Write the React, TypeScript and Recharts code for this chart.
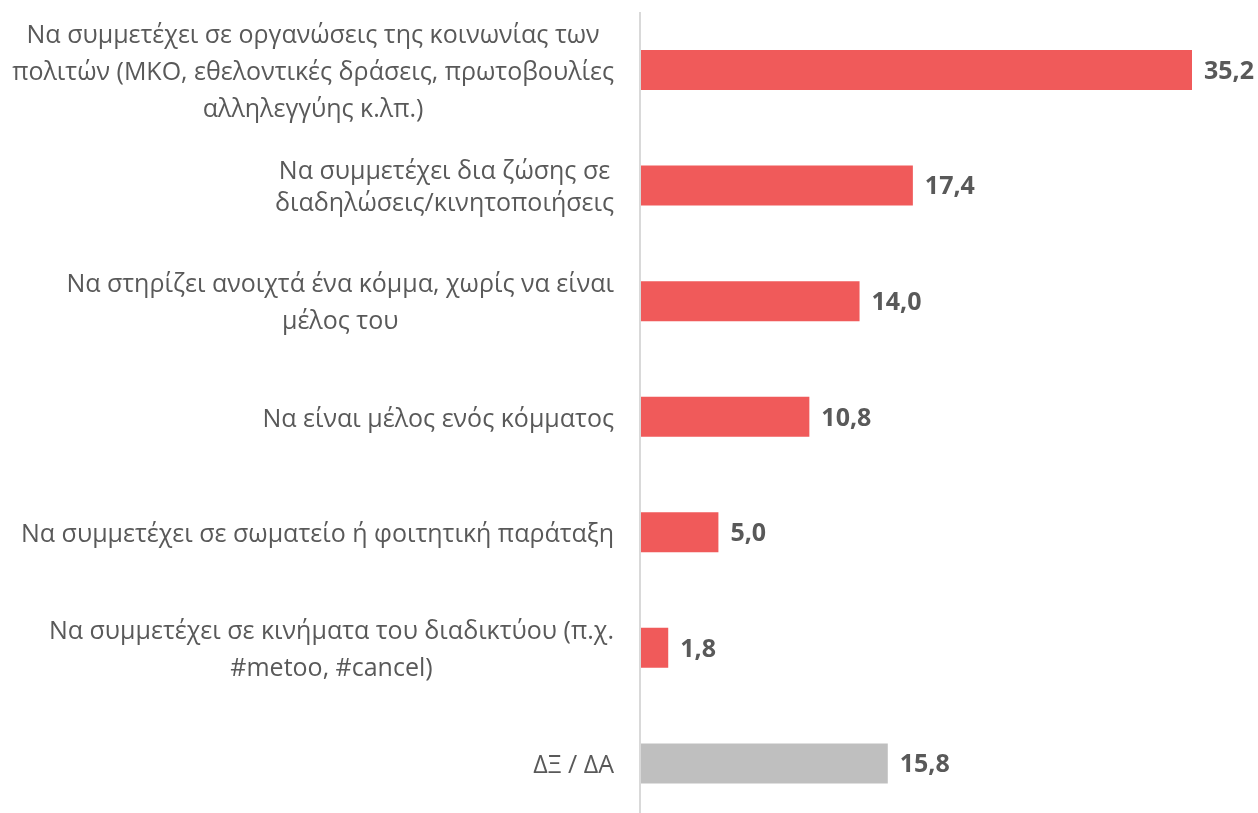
import { BarChart, Bar, XAxis, YAxis, Cell, LabelList } from 'recharts';

const categories = [
  'Να συμμετέχει σε οργανώσεις της κοινωνίας των\nπολιτών (ΜΚΟ, εθελοντικές δράσεις, πρωτοβουλίες\nαλληλεγγύης κ.λπ.)',
  'Να συμμετέχει δια ζώσης σε\nδιαδηλώσεις/κινητοποιήσεις',
  'Να στηρίζει ανοιχτά ένα κόμμα, χωρίς να είναι\nμέλος του',
  'Να είναι μέλος ενός κόμματος',
  'Να συμμετέχει σε σωματείο ή φοιτητική παράταξη',
  'Να συμμετέχει σε κινήματα του διαδικτύου (π.χ.\n#metoo, #cancel)',
  'ΔΞ / ΔΑ',
];
const values = [35.2, 17.4, 14.0, 10.8, 5.0, 1.8, 15.8];
const barColors = ['#F05A5A', '#F05A5A', '#F05A5A', '#F05A5A', '#F05A5A', '#F05A5A', '#BFBFBF'];

const data = categories.map((name, i) => ({ name, value: values[i] }));

const LABEL_SIZE = 25;
const LABEL_FONT = `${LABEL_SIZE}px 'Open Sans'`;
let ctx: CanvasRenderingContext2D | null = null;
function measure(text: string) {
  if (!ctx) ctx = document.createElement('canvas').getContext('2d');
  if (!ctx) return text.length * 12;
  ctx.font = LABEL_FONT;
  return ctx.measureText(text).width;
}

// multi-line, centred block whose right edge sits left of the axis
function CategoryTick(props: any) {
  const { y, payload } = props;
  const lines: string[] = String(payload.value).split('\n');
  const widest = Math.max(...lines.map(measure));
  const right = 614;
  const cx = right - widest / 2;
  const lh = lines.length === 2 && lines[1].startsWith('διαδηλ') ? 32 : 37;
  const startY = y - ((lines.length - 1) * lh) / 2;
  return (
    <text x={cx} y={startY} textAnchor="middle" fill="#595959" fontFamily="'Open Sans'" fontSize={LABEL_SIZE} dominantBaseline="central">
      {lines.map((l, i) => (
        <tspan key={i} x={cx} y={startY + i * lh}>{l}</tspan>
      ))}
    </text>
  );
}

export default function App() {
  return (
    <div style={{ position: 'fixed', left: 0, top: 0, width: 1258, height: 813, background: '#fff' }}>
      <BarChart
        width={1258}
        height={822}
        data={data}
        layout="vertical"
        margin={{ top: 12, right: 66, bottom: 1, left: 0 }}
        barCategoryGap={0}
      >
        <XAxis type="number" domain={[0, 35.2]} hide />
        <YAxis
          type="category"
          dataKey="name"
          width={640}
          axisLine={{ stroke: '#D9D9D9', strokeWidth: 2 }}
          tickLine={false}
          tick={<CategoryTick />}
          interval={0}
        />
        <Bar dataKey="value" barSize={40} isAnimationActive={false}>
          {data.map((d, i) => (
            <Cell key={d.name} fill={barColors[i]} />
          ))}
          <LabelList
            dataKey="value"
            position="right"
            offset={12}
            formatter={(v: any) => Number(v).toFixed(1).replace('.', ',')}
            fill="#595959"
            fontFamily="'Open Sans'"
            fontWeight="bold"
            fontSize={25}
          />
        </Bar>
      </BarChart>
    </div>
  );
}
